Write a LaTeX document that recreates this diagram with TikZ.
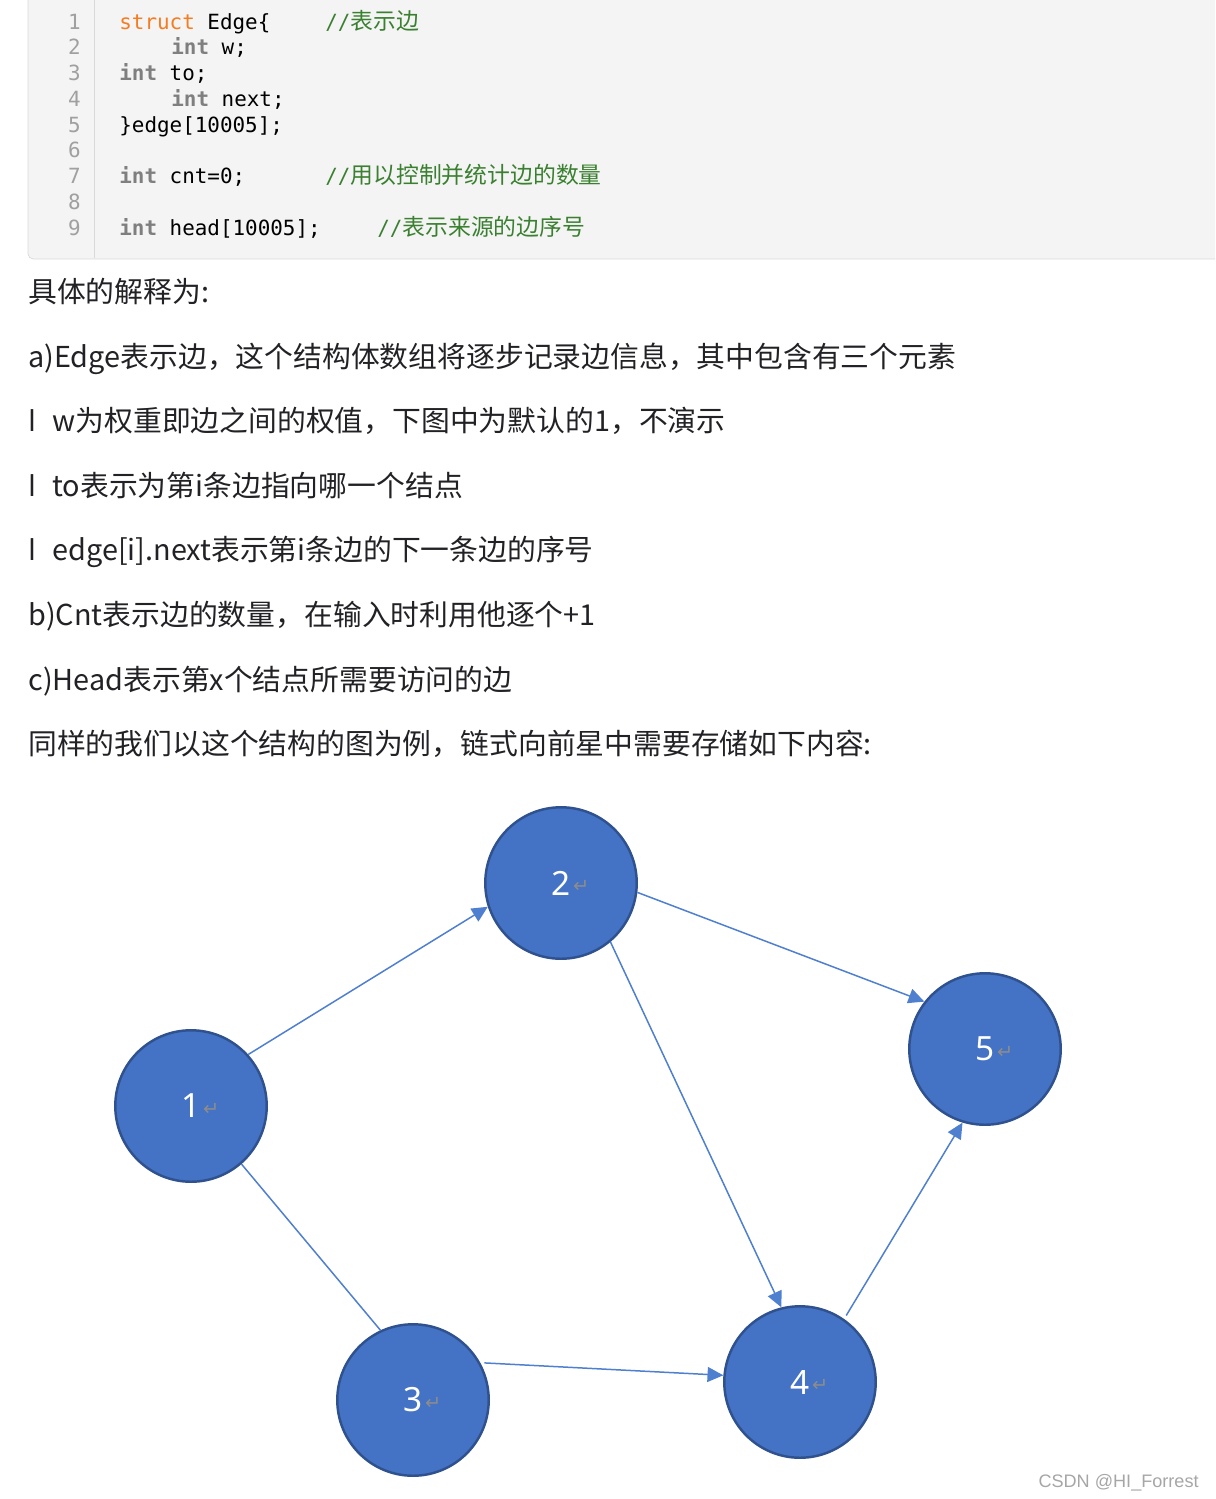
\documentclass[tikz,border=0pt]{standalone}
\usepackage{fontspec}
\usepackage{xcolor}
\setmonofont{DejaVu Sans Mono}
\newfontfamily\cjk{Noto Sans CJK SC}
\newfontfamily\digitfont{Noto Sans}
\newfontfamily\symfont{DejaVu Sans}
\newfontfamily\markfont{Liberation Sans}
\usetikzlibrary{
    positioning,
    arrows.meta
}
\definecolor{nodeBlue}{HTML}{4472C4}
\definecolor{nodeRim}{HTML}{2F528F}
\definecolor{edgeBlue}{HTML}{4F7FCF}
\definecolor{codeBack}{HTML}{F4F4F4}
\definecolor{codeRule}{HTML}{D9D9D9}
\definecolor{lineGray}{HTML}{A0A0A0}
\definecolor{kwOrange}{HTML}{F57C20}
\definecolor{kwGray}{HTML}{7F7F7F}
\definecolor{cmtGreen}{HTML}{3A8030}
\definecolor{bodyText}{HTML}{222226}
\definecolor{retGray}{HTML}{8C8C8C}
\definecolor{markGray}{HTML}{A6A6A6}

\newcommand\codefont{\ttfamily\fontsize{11.9pt}{14pt}\selectfont}
\newcommand\cmtfont{\cjk\fontsize{13pt}{14pt}\selectfont}
\newcommand\bodyfont{\cjk\fontsize{16.4pt}{20pt}\selectfont}
\newcommand\kw[1]{\textcolor{kwGray}{\bfseries #1}}
\newcommand\bul{{\digitfont l}\hspace{9.5pt}}
\newcommand\retmark{\rlap{\hspace{1.5pt}\raisebox{1.5pt}{\symfont\fontsize{11pt}{11pt}\selectfont\color{retGray}↵}}}

\begin{document}
\begin{tikzpicture}[x=0.02cm, y=-0.02cm,
        codeline/.style={anchor=base west, inner sep=0pt, font=\codefont},
        lnum/.style={anchor=base east, inner sep=0pt, font=\codefont, text=lineGray},
        cmt/.style={anchor=base west, inner sep=0pt, font=\codefont, text=cmtGreen},
        para/.style={anchor=base west, inner sep=0pt, font=\bodyfont, text=bodyText},
        vnode/.style={circle, draw=nodeRim, line width=1.4pt, fill=nodeBlue,
            minimum size=3.03cm, inner sep=0pt, text=white,
            font=\digitfont\fontsize{19pt}{19pt}\selectfont},
        arrowline/.style={draw=edgeBlue, line width=0.85pt, -{Triangle[length=9pt,width=8.5pt]}},
        plainline/.style={draw=edgeBlue, line width=0.85pt}]
    \useasboundingbox (0,0) rectangle (1215,1499);
    \clip (0,0) rectangle (1215,1499);

    % Code box
    \filldraw[fill=codeBack, draw=codeRule, rounded corners=3pt] (28,-10) rectangle (1235,259);
    \draw[codeRule] (94,0) -- (94,258);
    \foreach \i in {1,...,9}
        \node[lnum] (ln\i) at (81, {29+25.75*(\i-1)}) {\i};

    \node[codeline] (c1) at (119,29) {\textcolor{kwOrange}{struct} Edge\{};
    \node[codeline] (c2) at (171,54.75) {\kw{int} w;};
    \node[codeline] (c3) at (119,80.5) {\kw{int} to;};
    \node[codeline] (c4) at (171,106.25) {\kw{int} next;};
    \node[codeline] (c5) at (119,132) {\}edge[10005];};
    \node[codeline] (c7) at (119,183.5) {\kw{int} cnt=0;};
    \node[codeline] (c9) at (119,235) {\kw{int} head[10005];};
    \node[cmt] (k1) at (325,29) {//{\cmtfont 表示边}};
    \node[cmt] (k7) at (325,183.5) {//{\cmtfont 用以控制并统计边的数量}};
    \node[cmt] (k9) at (377,235) {//{\cmtfont 表示来源的边序号}};

    % Explanation
    \node[para] (t0) at (28,302) {具体的解释为:};
    \node[para] (t1) at (28,367) {a)Edge表示边，这个结构体数组将逐步记录边信息，其中包含有三个元素};
    \node[para] (t2) at (28,431) {\bul w为权重即边之间的权值，下图中为默认的1，不演示};
    \node[para] (t3) at (28,496) {\bul to表示为第i条边指向哪一个结点};
    \node[para] (t4) at (28,560) {\bul edge[i].next表示第i条边的下一条边的序号};
    \node[para] (t5) at (28,625) {b)Cnt表示边的数量，在输入时利用他逐个+1};
    \node[para] (t6) at (28,690) {c)Head表示第x个结点所需要访问的边};
    \node[para] (t7) at (28,754) {同样的我们以这个结构的图为例，链式向前星中需要存储如下内容:};

    % Graph
    \node[vnode] (n1) at (191,1106) {1\retmark};
    \node[vnode] (n2) at (561,883) {2\retmark};
    \node[vnode] (n5) at (985,1049) {5\retmark};
    \node[vnode] (n3) at (413,1400) {3\retmark};
    \node[vnode] (n4) at (800,1382) {4\retmark};

    \draw[arrowline] (n1.42) -- (n2.198);
    \draw[arrowline] (n2.-7) -- (n5.142);
    \draw[arrowline] (n2.-50) -- (n4.104);
    \draw[arrowline, shorten <=2.3pt] (n3.29) -- (n4.175);
    \draw[arrowline, shorten <=2.3pt] (n4.55) -- (n5.253);
    \draw[plainline] (n1.-49) -- (n3.115);

    \node[anchor=base east, inner sep=0pt, font=\markfont\fontsize{10.3pt}{12pt}\selectfont,
        text=markGray] (wm) at (1199,1487) {CSDN @HI\_Forrest};
\end{tikzpicture}
\end{document}
